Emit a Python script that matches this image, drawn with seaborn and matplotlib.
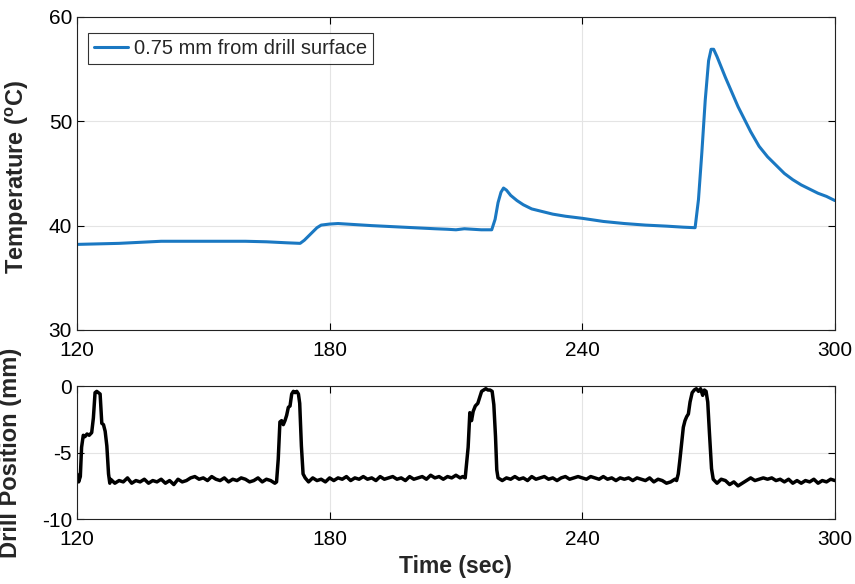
import numpy as np
import pandas as pd
import matplotlib
matplotlib.use("Agg")
import matplotlib.pyplot as plt
import seaborn as sns

# temperature trace, 0.75 mm from the drill surface
temp_time = [120, 125, 130, 135, 140, 145, 150, 155, 160, 165, 170, 173, 174, 175,
             176, 177, 178, 180, 182, 186, 190, 195, 200, 205, 208, 210, 212, 214,
             216, 218.5, 219.3, 220.0, 220.7, 221.3, 222.0, 223.0, 224.5, 226, 228,
             230, 233, 236, 240, 245, 250, 255, 260, 264, 266.8, 267.6, 268.4,
             269.2, 270.0, 270.6, 271.2, 272.0, 273.0, 274.0, 275.5, 277, 278.5,
             280, 282, 284, 286, 288, 290, 292, 294, 296, 298, 300]
temp_vals = [38.2, 38.25, 38.3, 38.4, 38.5, 38.5, 38.5, 38.5, 38.5, 38.45, 38.35, 38.3,
             38.6, 39.0, 39.4, 39.8, 40.05, 40.15, 40.2, 40.1, 40.0, 39.9, 39.8, 39.7,
             39.65, 39.6, 39.7, 39.65, 39.6, 39.6, 40.6, 42.2, 43.2, 43.6, 43.4, 42.9,
             42.4, 42.0, 41.6, 41.4, 41.1, 40.9, 40.7, 40.4, 40.2, 40.05, 39.95, 39.85,
             39.8, 42.5, 47.0, 52.0, 55.8, 56.9, 56.9, 56.2, 55.2, 54.2, 52.8, 51.4,
             50.2, 49.0, 47.6, 46.6, 45.8, 45.0, 44.4, 43.9, 43.5, 43.1, 42.8, 42.4]

# drill position trace, read in pieces (plunges and resting stretches)
plunge1_t = [120.0, 120.4, 120.8, 121.1, 121.5, 121.9, 122.4, 122.9, 123.5, 123.9,
             124.3, 124.7, 125.1, 125.5, 125.9, 126.3, 126.7, 127.1, 127.5, 127.8]
plunge1_y = [-6.6, -7.2, -6.8, -4.6, -3.7, -3.8, -3.6, -3.7, -3.5, -2.4,
             -0.5, -0.4, -0.5, -0.6, -2.8, -2.9, -3.4, -4.5, -6.6, -7.3]
rest1_t = list(range(128, 168))
rest1_y = [-7.0, -7.3, -7.1, -7.2, -6.9, -7.3, -7.1, -7.2, -7.0, -7.3,
           -7.1, -7.2, -7.0, -7.3, -7.1, -7.4, -7.0, -7.2, -7.1, -6.9,
           -6.8, -7.0, -6.9, -7.1, -6.8, -7.0, -7.1, -6.9, -7.2, -7.0,
           -7.1, -6.9, -7.0, -7.2, -7.1, -6.9, -7.2, -7.0, -7.1, -7.3]
plunge2_t = [167.4, 167.8, 168.2, 168.6, 169.0, 169.4, 169.8, 170.2, 170.6, 171.0,
             171.4, 171.8, 172.2, 172.6, 172.9, 173.3, 173.7, 174.2]
plunge2_y = [-7.2, -5.5, -2.7, -2.6, -2.9, -2.6, -2.2, -1.6, -1.5, -0.6,
             -0.4, -0.5, -0.4, -0.6, -1.3, -4.5, -6.6, -6.9]
rest2_t = list(range(175, 212))
rest2_y = [-7.2, -6.9, -7.1, -7.0, -7.2, -6.9, -7.1, -6.9, -7.0, -6.8,
           -7.1, -6.9, -7.0, -6.8, -7.0, -6.9, -7.1, -6.8, -7.0, -6.9,
           -6.8, -7.0, -6.9, -7.1, -6.8, -7.0, -6.9, -6.8, -7.0, -6.7,
           -6.9, -6.8, -7.0, -6.8, -6.9, -6.7, -6.9]
plunge3_t = [211.6, 212.2, 212.9, 213.3, 213.7, 214.1, 214.6, 215.2, 215.7, 216.1,
             216.6, 217.1, 217.6, 218.1, 218.6, 219.0, 219.4, 219.7, 220.0]
plunge3_y = [-6.8, -6.9, -4.6, -2.0, -2.6, -1.9, -1.5, -1.3, -0.8, -0.4,
             -0.3, -0.2, -0.3, -0.3, -0.4, -1.4, -3.8, -6.3, -6.9]
rest3_t = list(range(221, 263))
rest3_y = [-7.1, -6.9, -7.0, -6.8, -7.0, -6.9, -7.1, -6.8, -7.0, -6.9,
           -6.8, -7.0, -6.9, -7.1, -6.9, -6.8, -7.0, -6.9, -6.8, -6.9,
           -7.0, -6.8, -6.9, -7.0, -6.8, -7.0, -6.9, -7.1, -6.9, -7.0,
           -6.9, -7.1, -6.9, -7.0, -7.1, -6.9, -7.2, -7.0, -7.1, -7.3,
           -7.2, -7.0]
plunge4_t = [262.4, 262.8, 263.2, 263.6, 264.0, 264.4, 264.8, 265.2, 265.6, 266.1,
             266.6, 267.1, 267.6, 268.1, 268.6, 269.0, 269.4, 269.8, 270.2, 270.7,
             271.1]
plunge4_y = [-7.1, -6.6, -5.5, -4.3, -3.1, -2.6, -2.3, -2.1, -1.2, -0.5,
             -0.3, -0.2, -0.4, -0.2, -0.7, -0.3, -0.4, -1.2, -3.5, -6.2,
             -7.0]
rest4_t = list(range(272, 301))
rest4_y = [-7.3, -7.0, -7.1, -7.4, -7.2, -7.5, -7.3, -7.1, -6.9, -7.1,
           -7.0, -6.9, -7.0, -6.9, -7.1, -7.0, -7.2, -7.0, -7.3, -7.1,
           -7.3, -7.1, -7.2, -7.0, -7.3, -7.1, -7.2, -7.0, -7.1]

drill_time = (plunge1_t + rest1_t + plunge2_t + rest2_t + plunge3_t + rest3_t
              + plunge4_t + rest4_t)
drill_pos = (plunge1_y + rest1_y + plunge2_y + rest2_y + plunge3_y + rest3_y
             + plunge4_y + rest4_y)

xticks = [120, 180, 240, 300]

sns.set_theme(style="ticks")
plt.rcParams["font.family"] = ["Liberation Sans", "DejaVu Sans"]
plt.rcParams["axes.unicode_minus"] = False
plt.rcParams["mathtext.fontset"] = "custom"
plt.rcParams["mathtext.bf"] = "Liberation Sans:bold"
plt.rcParams["mathtext.rm"] = "Liberation Sans"

temp_df = pd.DataFrame({"time": temp_time, "temp": temp_vals})
drill_df = pd.DataFrame({"time": drill_time, "pos": drill_pos})

fig = plt.figure(figsize=(8.55, 5.84), dpi=100)
ax_t = fig.add_axes([0.090, 0.435, 0.8865, 0.536])
ax_d = fig.add_axes([0.090, 0.111, 0.8865, 0.228])

sns.lineplot(data=temp_df, x="time", y="temp", ax=ax_t, color="#1a78c2",
             linewidth=2.2, sort=False, estimator=None,
             label="0.75 mm from drill surface")
sns.lineplot(data=drill_df, x="time", y="pos", ax=ax_d, color="black",
             linewidth=2.5, sort=False, estimator=None)

for ax in (ax_t, ax_d):
    ax.set_xlim(120, 300)
    ax.set_xticks(xticks)
    ax.grid(True, color="#e4e4e4", linewidth=0.8)
    ax.tick_params(direction="in", length=5, width=0.8, labelsize=15,
                   top=True, right=True, colors="black")
    for s in ax.spines.values():
        s.set_visible(True)
        s.set_linewidth(0.8)
        s.set_color("#222222")

ax_t.set_ylim(30, 60)
ax_t.set_yticks([30, 40, 50, 60])
ax_t.set_xlabel("")
ax_t.set_ylabel(r"Temperature ($\mathbf{^{o}}$C)", fontsize=17, fontweight="bold")
ax_t.yaxis.set_label_coords(-0.061, 0.49)
ax_t.tick_params(axis="x", pad=8)

ax_d.set_ylim(-10, 0)
ax_d.set_yticks([-10, -5, 0])
ax_d.set_xlabel("Time (sec)", fontsize=16.5, fontweight="bold", labelpad=4)
ax_d.set_ylabel("Drill Position (mm)", fontsize=17, fontweight="bold")
ax_d.yaxis.set_label_coords(-0.073, 0.5)
ax_d.tick_params(axis="x", pad=8)

leg = ax_t.legend(loc="upper left", bbox_to_anchor=(0.014, 0.95), fontsize=14.5,
                  frameon=True, fancybox=False, handlelength=1.7,
                  handletextpad=0.3, borderpad=0.3, borderaxespad=0)
leg.get_frame().set_edgecolor("black")
leg.get_frame().set_linewidth(0.8)

fig.savefig("out.png", dpi=100, facecolor="white")
